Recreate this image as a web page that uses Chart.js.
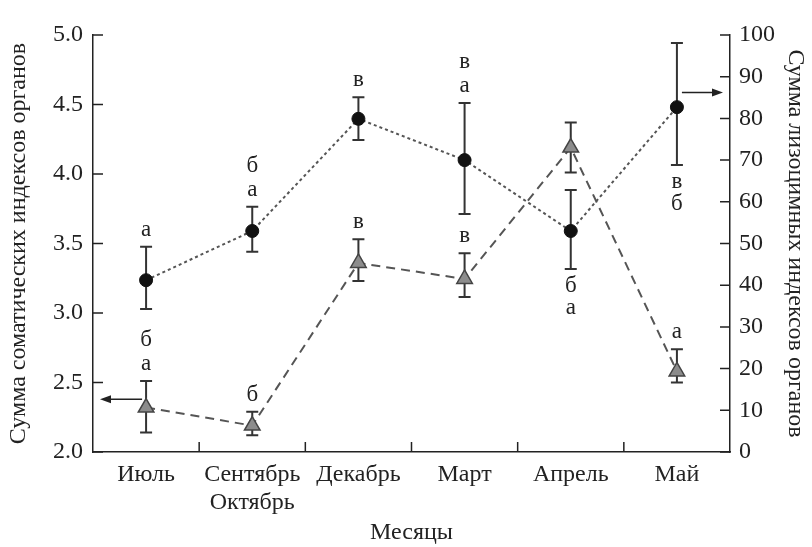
<!DOCTYPE html>
<html>
<head>
<meta charset="utf-8">
<script src="https://cdn.jsdelivr.net/npm/chart.js@4"></script>
<style>
html,body{margin:0;padding:0;background:#fff;}
#wrap{width:812px;height:547px;}
</style>
</head>
<body>
<div id="wrap"><canvas id="c" width="812" height="547"></canvas></div>
<script>
const months = ['Июль', ['Сентябрь', 'Октябрь'], 'Декабрь', 'Март', 'Апрель', 'Май'];
const leftTicks = [2.0, 2.5, 3.0, 3.5, 4.0, 4.5, 5.0];
const rightTicks = [0, 10, 20, 30, 40, 50, 60, 70, 80, 90, 100];

// Сумма соматических индексов (левая ось, треугольники)
const somatic = [2.32, 2.19, 3.36, 3.245, 4.19, 2.58];
const somaticLow = [2.14, 2.12, 3.23, 3.115, 4.01, 2.50];
const somaticHigh = [2.51, 2.29, 3.53, 3.43, 4.37, 2.74];
const somaticLettersAbove = [['б', 'а'], ['б'], ['в'], ['в'], [], ['а']];
const somaticLettersBelow = [[], [], [], [], [], []];

// Сумма лизоцимных индексов (правая ось, кружки)
const lysozyme = [41.2, 53.0, 79.9, 70.0, 53.0, 82.7];
const lysozymeLow = [34.3, 48.0, 74.8, 57.1, 43.9, 68.8];
const lysozymeHigh = [49.2, 58.8, 85.1, 83.7, 62.8, 98.1];
const lysozymeLettersAbove = [['а'], ['б', 'а'], ['в'], ['в', 'а'], [], []];
const lysozymeLettersBelow = [[], [], [], [], ['б', 'а'], ['в', 'б']];

const FONT = '"Liberation Serif", "Times New Roman", serif';
const INK = '#222';
const FS = 24;

const extras = {
  id: 'extras',
  beforeDatasetsDraw(chart) {
    const ctx = chart.ctx;
    const x = chart.scales.x;
    const groups = [
      {scale: chart.scales.y, low: somaticLow, high: somaticHigh},
      {scale: chart.scales.y1, low: lysozymeLow, high: lysozymeHigh}
    ];
    ctx.save();
    ctx.strokeStyle = '#333';
    ctx.lineWidth = 2;
    groups.forEach(g => {
      g.low.forEach((lo, i) => {
        const px = x.getPixelForValue(i);
        const y1 = g.scale.getPixelForValue(lo);
        const y2 = g.scale.getPixelForValue(g.high[i]);
        ctx.beginPath();
        ctx.moveTo(px, y1); ctx.lineTo(px, y2);
        ctx.moveTo(px - 6, y1); ctx.lineTo(px + 6, y1);
        ctx.moveTo(px - 6, y2); ctx.lineTo(px + 6, y2);
        ctx.stroke();
      });
    });
    ctx.restore();
  },
  afterDatasetsDraw(chart) {
    const ctx = chart.ctx;
    const a = chart.chartArea;
    const x = chart.scales.x, yl = chart.scales.y, yr = chart.scales.y1;
    ctx.save();
    // inner ticks
    ctx.strokeStyle = INK;
    ctx.lineWidth = 1.5;
    ctx.beginPath();
    yl.ticks.forEach(t => { const p = yl.getPixelForValue(t.value); ctx.moveTo(a.left, p); ctx.lineTo(a.left + 10, p); });
    yr.ticks.forEach(t => { const p = yr.getPixelForValue(t.value); ctx.moveTo(a.right, p); ctx.lineTo(a.right - 10, p); });
    for (let i = 0; i < months.length - 1; i++) {
      const p = (x.getPixelForValue(i) + x.getPixelForValue(i + 1)) / 2;
      ctx.moveTo(p, a.bottom); ctx.lineTo(p, a.bottom - 10);
    }
    ctx.stroke();

    // letters
    ctx.fillStyle = INK;
    ctx.font = '23px ' + FONT;
    ctx.textAlign = 'center';
    ctx.textBaseline = 'alphabetic';
    const sets = [
      {scale: yl, high: somaticHigh, low: somaticLow, above: somaticLettersAbove, below: somaticLettersBelow},
      {scale: yr, high: lysozymeHigh, low: lysozymeLow, above: lysozymeLettersAbove, below: lysozymeLettersBelow}
    ];
    sets.forEach(s => {
      s.above.forEach((letters, i) => {
        const px = x.getPixelForValue(i);
        const top = s.scale.getPixelForValue(s.high[i]);
        const n = letters.length;
        letters.forEach((L, k) => {
          ctx.fillText(L, px, top - 11 - (n - 1 - k) * 24);
        });
      });
      s.below.forEach((letters, i) => {
        const px = x.getPixelForValue(i);
        const bot = s.scale.getPixelForValue(s.low[i]);
        letters.forEach((L, k) => {
          ctx.fillText(L, px, bot + 23 + k * 22);
        });
      });
    });

    // arrows
    ctx.strokeStyle = INK;
    ctx.fillStyle = INK;
    ctx.lineWidth = 1.5;
    const arrow = (x1, x2, y) => {
      const dir = Math.sign(x2 - x1);
      ctx.beginPath(); ctx.moveTo(x1, y); ctx.lineTo(x2 - dir * 8, y); ctx.stroke();
      ctx.beginPath(); ctx.moveTo(x2, y); ctx.lineTo(x2 - dir * 11, y - 4); ctx.lineTo(x2 - dir * 11, y + 4); ctx.closePath(); ctx.fill();
    };
    const yA = yl.getPixelForValue(2.38);
    arrow(x.getPixelForValue(0) - 4, a.left + 7, yA);
    const yB = yr.getPixelForValue(86.2);
    arrow(x.getPixelForValue(5) + 5, a.right - 7, yB);
    ctx.restore();
  }
};

new Chart(document.getElementById('c'), {
  type: 'line',
  data: {
    labels: months,
    datasets: [
      {
        label: 'Сумма соматических индексов органов',
        data: somatic,
        yAxisID: 'y',
        borderColor: '#555',
        borderWidth: 2,
        borderDash: [9, 6],
        pointStyle: 'triangle',
        pointRadius: 9,
        pointBackgroundColor: '#8c8c8c',
        pointBorderColor: '#444',
        pointBorderWidth: 1.5,
        tension: 0
      },
      {
        label: 'Сумма лизоцимных индексов органов',
        data: lysozyme,
        yAxisID: 'y1',
        borderColor: '#555',
        borderWidth: 2,
        borderDash: [3, 3],
        pointStyle: 'circle',
        pointRadius: 6.5,
        pointBackgroundColor: '#111',
        pointBorderColor: '#111',
        pointBorderWidth: 1,
        tension: 0
      }
    ]
  },
  options: {
    responsive: false,
    animation: false,
    devicePixelRatio: 1,
    layout: {padding: {top: 35, left: 0, right: 0, bottom: 0}},
    plugins: {legend: {display: false}, tooltip: {enabled: false}},
    scales: {
      x: {
        offset: true,
        grid: {display: false, drawTicks: false},
        border: {display: true, color: INK, width: 1.5},
        ticks: {color: INK, font: {family: FONT, size: FS, lineHeight: 1.15}, padding: 9, maxRotation: 0, autoSkip: false},
        title: {display: true, text: 'Месяцы', color: INK, font: {family: FONT, size: FS}, padding: {top: 0, bottom: 0}},
        afterFit(s) { s.height = 95; }
      },
      y: {
        position: 'left',
        min: 2, max: 5,
        afterBuildTicks(s) { s.ticks = leftTicks.map(v => ({value: v})); },
        grid: {display: false, drawTicks: false},
        border: {display: true, color: INK, width: 1.5},
        ticks: {color: INK, font: {family: FONT, size: FS}, padding: 10, callback: v => Number(v).toFixed(1)},
        title: {display: true, text: 'Сумма соматических индексов органов', color: INK, font: {family: FONT, size: FS}, padding: {top: 4, bottom: 0}},
        afterFit(s) { s.width = 93; }
      },
      y1: {
        position: 'right',
        min: 0, max: 100,
        afterBuildTicks(s) { s.ticks = rightTicks.map(v => ({value: v})); },
        grid: {display: false, drawTicks: false},
        border: {display: true, color: INK, width: 1.5},
        ticks: {color: INK, font: {family: FONT, size: FS}, padding: 9},
        title: {display: true, text: 'Сумма лизоцимных индексов органов', color: INK, font: {family: FONT, size: FS}, padding: {top: 2, bottom: 0}},
        afterFit(s) { s.width = 82; }
      }
    }
  },
  plugins: [extras]
});
</script>
</body>
</html>
